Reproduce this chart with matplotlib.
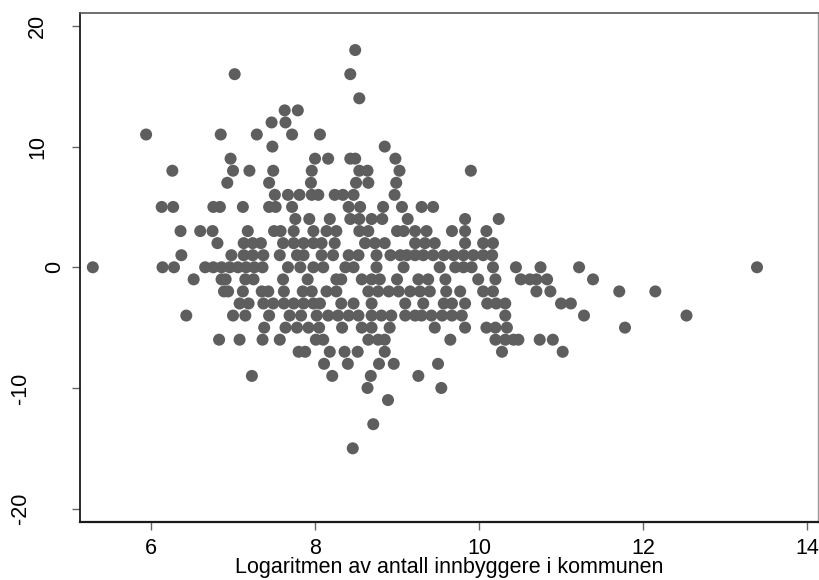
import numpy as np
import matplotlib
matplotlib.use('Agg')
import matplotlib.pyplot as plt

plt.rcParams['font.family'] = ['Liberation Sans', 'DejaVu Sans']

# y-nivaa (hele tall) og log(innbyggere) for punktene paa hvert nivaa
niva = [18, 16, 14, 13, 12, 11, 10, 9, 8, 7, 6, 5, 4, 3, 2, 1, 0,
        -1, -2, -3, -4, -5, -6, -7, -8, -9, -10, -11, -13, -15]
log_innb = [
    [8.49],
    [7.02, 8.43],
    [8.54],
    [7.63, 7.79],
    [7.47, 7.64],
    [5.94, 6.85, 7.29, 7.72, 8.06],
    [7.48, 8.85],
    [6.97, 8.00, 8.16, 8.43, 8.49, 8.98],
    [6.26, 7.00, 7.20, 7.49, 7.96, 8.54, 8.64, 9.03, 9.90],
    [6.93, 7.44, 7.95, 8.50, 8.65, 8.99],
    [7.51, 7.67, 7.81, 7.96, 8.04, 8.24, 8.34, 8.47, 8.97],
    [6.13, 6.27, 6.76, 6.84, 7.12, 7.44, 7.52, 7.72, 8.41, 8.55, 8.83, 9.06, 9.30, 9.44],
    [7.76, 7.93, 8.18, 8.43, 8.54, 8.69, 8.82, 9.13, 9.83, 10.24],
    [6.36, 6.60, 6.75, 7.18, 7.50, 7.58, 7.74, 7.98, 8.14, 8.26, 8.54, 8.65, 9.00, 9.08,
     9.22, 9.36, 9.67, 9.83, 10.09],
    [6.81, 7.13, 7.24, 7.34, 7.61, 7.74, 7.86, 7.98, 8.08, 8.24, 8.61, 8.73, 8.85, 9.22,
     9.34, 9.46, 9.83, 10.05, 10.17],
    [6.37, 6.98, 7.13, 7.24, 7.37, 7.57, 7.78, 7.86, 8.08, 8.22, 8.41, 8.53, 8.75, 8.92,
     9.04, 9.12, 9.22, 9.32, 9.44, 9.57, 9.69, 9.81, 9.93, 10.05, 10.16],
    [5.29, 6.14, 6.28, 6.66, 6.76, 6.86, 6.96, 7.06, 7.16, 7.26, 7.36, 7.67, 7.82, 7.98,
     8.10, 8.37, 8.47, 8.75, 9.08, 9.52, 9.71, 9.81, 9.91, 10.17, 10.45, 10.75, 11.22, 13.39],
    [6.52, 6.86, 6.91, 7.15, 7.25, 7.61, 7.91, 8.26, 8.32, 8.57, 8.69, 8.79, 9.00, 9.26,
     9.38, 9.59, 9.99, 10.20, 10.51, 10.62, 10.70, 10.83, 11.39],
    [6.89, 6.94, 7.12, 7.35, 7.43, 7.62, 7.85, 7.96, 8.14, 8.26, 8.65, 8.77, 8.90, 9.02,
     9.16, 9.28, 9.40, 9.60, 9.77, 10.05, 10.17, 10.70, 10.87, 11.71, 12.15],
    [7.08, 7.19, 7.37, 7.49, 7.62, 7.74, 7.86, 7.98, 8.06, 8.32, 8.47, 8.69, 9.10, 9.32,
     9.57, 9.67, 9.83, 10.10, 10.21, 10.32, 11.00, 11.12],
    [6.43, 7.00, 7.15, 7.44, 7.69, 7.83, 8.02, 8.16, 8.28, 8.41, 8.53, 8.69, 8.81, 8.93,
     9.10, 9.22, 9.30, 9.42, 9.55, 9.67, 9.79, 10.32, 11.28, 12.53],
    [7.38, 7.64, 7.78, 7.92, 8.05, 8.33, 8.57, 8.69, 8.91, 9.46, 9.83, 10.09, 10.20, 10.34, 11.78],
    [6.83, 7.08, 7.36, 7.57, 8.01, 8.10, 8.65, 8.77, 8.85, 9.65, 10.20, 10.32, 10.42, 10.48,
     10.74, 10.90],
    [7.80, 7.88, 8.18, 8.36, 8.52, 8.85, 10.28, 11.02],
    [8.11, 8.40, 8.78, 8.96, 9.50],
    [7.23, 8.21, 8.68, 9.26],
    [8.64, 9.54],
    [8.89],
    [8.71],
    [8.46],
]

xticks = [6, 8, 10, 12, 14]
yticks = [-20, -10, 0, 10, 20]
xlabel = 'Logaritmen av antall innbyggere i kommunen'

x = np.concatenate([np.array(r) for r in log_innb])
y = np.concatenate([np.full(len(r), v) for r, v in zip(log_innb, niva)])

fs = 15.5

fig = plt.figure(figsize=(8.19, 5.80), dpi=100)
ax = fig.add_axes([0.0977, 0.1005, 0.9007, 0.8765])

ax.scatter(x, y, s=75, color='#5e5e5e', edgecolors='none', zorder=3)

ax.set_xlim(5.134, 14.13)
ax.set_ylim(-21.08, 21.04)

ax.set_xticks(xticks)
ax.set_xticklabels([str(t) for t in xticks])
ax.set_yticks(yticks)
ax.set_yticklabels([])
ax.tick_params(axis='both', direction='out', length=6, width=1.0,
               color='#666666', labelsize=fs, pad=6)

# rotated y labels, Stata-like placement (further out for longer labels)
for v in yticks:
    lab = str(v)
    d = 5.4 + 12.6 * len(lab)
    ax.annotate(lab, xy=(0, v), xycoords=('axes fraction', 'data'),
                xytext=(-d, 0), textcoords='offset points',
                rotation=90, ha='center', va='center', fontsize=fs)

ax.set_xlabel(xlabel, fontsize=fs, labelpad=-1.5)

ax.spines['left'].set_color('#1a1a1a')
ax.spines['bottom'].set_color('#1a1a1a')
ax.spines['left'].set_linewidth(1.3)
ax.spines['bottom'].set_linewidth(1.6)
ax.spines['top'].set_color('#555555')
ax.spines['right'].set_color('#999999')
ax.spines['top'].set_linewidth(1.2)
ax.spines['right'].set_linewidth(1.0)

fig.savefig('out.png', dpi=100)
